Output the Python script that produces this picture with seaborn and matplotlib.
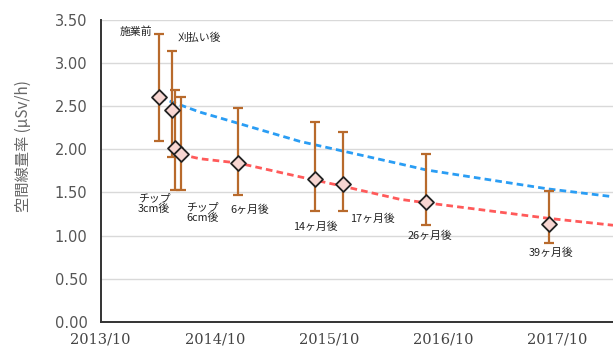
import numpy as np
import pandas as pd
import matplotlib
matplotlib.use("Agg")
import matplotlib.pyplot as plt
import matplotlib.dates as mdates
import seaborn as sns

# Survey stages, dates and air dose rates (μSv/h)
stages = ["施業前", "刈払い後", "チップ\n3cm後", "チップ\n6cm後", "6ヶ月後",
          "14ヶ月後", "17ヶ月後", "26ヶ月後", "39ヶ月後"]
dates = ["2014-04-07", "2014-05-18", "2014-05-27", "2014-06-14", "2014-12-16",
         "2015-08-18", "2015-11-17", "2016-08-08", "2017-09-04"]
mean_rate = [2.60, 2.45, 2.01, 1.94, 1.84, 1.66, 1.60, 1.39, 1.13]
min_rate = [2.10, 1.91, 1.53, 1.53, 1.47, 1.28, 1.28, 1.12, 0.92]
max_rate = [3.33, 3.14, 2.68, 2.60, 2.48, 2.32, 2.20, 1.95, 1.52]

# Expected physical decay from the pre-work level (blue) and after chipping (red)
decay_pre_dates = ["2014-04-07", "2014-08-14", "2014-12-15", "2015-07-01",
                   "2016-05-16", "2016-08-08", "2017-09-03", "2018-03-29"]
decay_pre_rate = [2.60, 2.43, 2.30, 2.09, 1.83, 1.76, 1.54, 1.45]
decay_post_dates = ["2014-06-14", "2014-08-14", "2014-12-15", "2015-07-01",
                    "2015-11-17", "2016-05-16", "2016-08-08", "2017-09-03",
                    "2018-03-29"]
decay_post_rate = [1.94, 1.89, 1.84, 1.68, 1.57, 1.42, 1.38, 1.20, 1.12]

# Label offsets from each marker, in pixels (dx, dy)
label_offsets = [(-23, 66), (27, 73), (-21, -55), (22, -58), (11, -47),
                 (0, -48), (29, -35), (4, -34), (2, -28)]

y_ticks = [0.0, 0.5, 1.0, 1.5, 2.0, 2.5, 3.0, 3.5]
x_ticks = ["2013-10-01", "2014-10-01", "2015-10-01", "2016-10-01", "2017-10-01"]

sns.set_style("white")
plt.rcParams["font.family"] = ["DejaVu Sans", "Noto Sans CJK JP"]

df = pd.DataFrame({"date": pd.to_datetime(dates), "rate": mean_rate,
                   "lo": min_rate, "hi": max_rate, "stage": stages})
pre = pd.DataFrame({"date": pd.to_datetime(decay_pre_dates), "rate": decay_pre_rate})
post = pd.DataFrame({"date": pd.to_datetime(decay_post_dates), "rate": decay_post_rate})

fig = plt.figure(figsize=(6.13, 3.54), dpi=100)
ax = fig.add_axes([100.7 / 613, 1 - 322 / 354, 1 - 100.7 / 613, (322 - 19.6) / 354])

for y in y_ticks[1:]:
    ax.axhline(y, color="#d9d9d9", lw=1.0, zorder=0)

sns.lineplot(data=pre, x="date", y="rate", ax=ax, color="#2a9df4", lw=2.0,
             dashes=False, zorder=2)
sns.lineplot(data=post, x="date", y="rate", ax=ax, color="#ff5a5a", lw=2.0,
             dashes=False, zorder=2)
for line in ax.lines[-2:]:
    line.set_linestyle((0, (2.4, 1.5)))

ax.errorbar(df["date"], df["rate"],
            yerr=[df["rate"] - df["lo"], df["hi"] - df["rate"]],
            fmt="none", ecolor="#b86a2c", elinewidth=1.6, capsize=3.5,
            capthick=1.6, zorder=3)
sns.scatterplot(data=df, x="date", y="rate", ax=ax, marker="D", s=58,
                color="#f7d6d2", edgecolor="#222222", linewidth=1.3, zorder=4)

for (d, r, s), (dx, dy) in zip(zip(df["date"], df["rate"], df["stage"]), label_offsets):
    ax.annotate(s, xy=(d, r), xytext=(dx, dy), textcoords="offset pixels",
                ha="center", va="center", fontsize=7.8, color="#222222",
                family=["Noto Sans CJK JP", "DejaVu Sans"], linespacing=1.1)

ax.set_ylim(0, 3.5)
ax.set_xlim(pd.Timestamp("2013-10-01"), pd.Timestamp("2018-03-29"))
ax.set_yticks(y_ticks)
ax.set_yticklabels([f"{v:.2f}" for v in y_ticks])
ax.set_xticks(pd.to_datetime(x_ticks))
ax.xaxis.set_major_formatter(mdates.DateFormatter("%Y/%m"))
ax.set_xlabel("")
ax.set_ylabel("")

for side in ["top", "right"]:
    ax.spines[side].set_visible(False)
for side in ["left", "bottom"]:
    ax.spines[side].set_color("#333333")
    ax.spines[side].set_linewidth(1.4)

ax.tick_params(axis="both", direction="inout", length=7, width=1.3, color="#333333")
ax.tick_params(axis="y", labelsize=10.5, labelcolor="#555555", pad=6)
ax.tick_params(axis="x", labelsize=10.5, labelcolor="#444444", pad=4)
for lbl in ax.get_xticklabels():
    lbl.set_family("DejaVu Serif")

fig.text(23 / 613, 1 - 146 / 354, "空間線量率 (μSv/h)", rotation=90,
         ha="center", va="center", fontsize=11, color="#666666",
         family=["Noto Sans CJK JP", "DejaVu Sans"])

fig.savefig("out.png", dpi=100)
